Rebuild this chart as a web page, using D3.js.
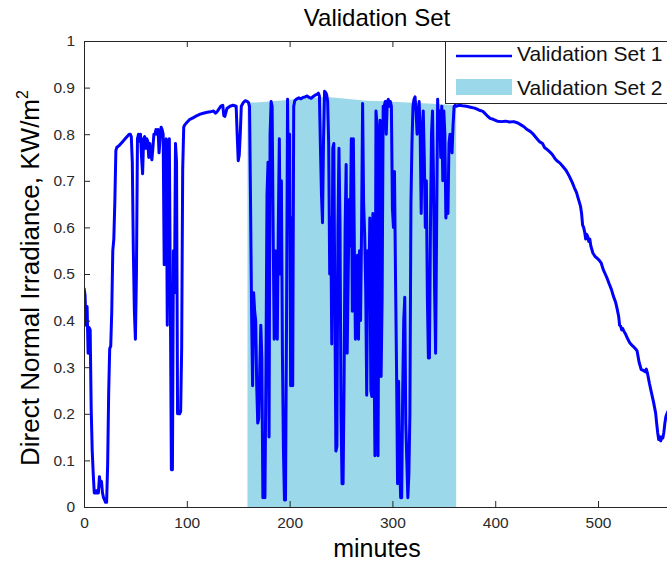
<!DOCTYPE html>
<html>
<head>
<meta charset="utf-8">
<script src="https://cdn.jsdelivr.net/npm/d3@7"></script>
<style>
  body { margin: 0; background: #fff; }
  svg { display: block; font-family: "Liberation Sans", Arial, sans-serif; }
</style>
</head>
<body>
<div id="chart-area"></div>
<script>
// chart texts
var chartTitle = "Validation Set"
var xLabel = "minutes"
var seriesNames = ["Validation Set 1", "Validation Set 2"]

// ticks
var xTicks = [0, 100, 200, 300, 400, 500]
var yTicks = [0, 0.1, 0.2, 0.3, 0.4, 0.5, 0.6, 0.7, 0.8, 0.9, 1]
var yTickLabels = ["0", "0.1", "0.2", "0.3", "0.4", "0.5", "0.6", "0.7", "0.8", "0.9", "1"]
var xMax = 570

// Validation Set 1 : [minute, KW/m2]
var set1 = [
  [0,0.47],[1,0.455],[2,0.39],[3,0.43],[4,0.33],[5,0.385],[6,0.38],[7,0.21],[8,0.12],[9,0.07],
  [10,0.03],[11,0.03],[12,0.035],[13,0.03],[14,0.03],[15,0.065],[16,0.045],[17,0.055],[18,0.03],[19,0.02],
  [20,0.015],[21,0.01],[22,0.01],[23,0.09],[24,0.245],[25,0.34],[26,0.345],[27,0.42],[28,0.55],[29,0.575],
  [30,0.655],[31,0.765],[32,0.772],[34,0.775],[36,0.78],[38,0.785],[40,0.79],[42,0.795],[44,0.80],[45,0.80],
  [46,0.795],[47,0.74],[48,0.55],[49,0.42],[50,0.36],[51,0.50],[52,0.79],[53,0.80],[54,0.785],[55,0.80],
  [56,0.75],[57,0.715],[58,0.79],[59,0.795],[60,0.77],[61,0.79],[62,0.785],[63,0.75],[64,0.78],[65,0.76],
  [66,0.745],[67,0.77],[68,0.80],[69,0.80],[70,0.81],[71,0.80],[72,0.81],[73,0.76],[74,0.79],[75,0.815],
  [76,0.81],[77,0.80],[78,0.52],[79,0.78],[80,0.79],[81,0.39],[82,0.76],[83,0.79],[84,0.45],[85,0.08],
  [86,0.08],[87,0.55],[88,0.46],[89,0.78],[90,0.74],[91,0.20],[92,0.205],[93,0.20],[94,0.205],[95,0.34],
  [95.5,0.54],[96,0.725],[97,0.815],[98,0.82],[100,0.825],[103,0.832],[106,0.835],[110,0.84],[113,0.843],[116,0.845],
  [120,0.847],[123,0.848],[126,0.85],[128,0.845],[130,0.85],[133,0.86],[135,0.862],[136,0.84],[137,0.838],[139,0.855],
  [142,0.86],[145,0.862],[148,0.86],[149,0.80],[150,0.743],[151,0.755],[152,0.80],[153,0.86],[155,0.868],[157,0.872],
  [159,0.87],[160,0.868],[161,0.86],[162,0.65],[163,0.42],[164,0.26],[165,0.46],[166,0.42],[167,0.40],[168,0.26],
  [169,0.18],[170,0.19],[171,0.30],[172,0.39],[173,0.32],[174,0.02],[175,0.05],[176,0.02],[177,0.30],[178,0.67],
  [179,0.74],[180,0.15],[181,0.80],[182,0.87],[183,0.86],[184,0.59],[185,0.36],[186,0.55],[187,0.42],[188,0.36],
  [189,0.60],[190,0.79],[191,0.50],[192,0.70],[193,0.33],[194,0.12],[195,0.015],[196,0.015],[197,0.40],[198,0.875],
  [199,0.62],[200,0.80],[201,0.26],[202,0.62],[203,0.26],[204,0.86],[205,0.872],[207,0.876],[209,0.878],[211,0.876],
  [213,0.879],[215,0.88],[217,0.882],[219,0.879],[221,0.877],[223,0.881],[225,0.884],[227,0.886],[228,0.888],[229,0.882],
  [230,0.77],[231,0.67],[232,0.61],[233,0.79],[234,0.892],[235,0.89],[236,0.885],[237,0.87],[238,0.78],[239,0.50],
  [240,0.62],[241,0.35],[242,0.77],[243,0.78],[244,0.44],[245,0.12],[246,0.13],[247,0.60],[248,0.77],[249,0.61],
  [250,0.20],[251,0.05],[252,0.05],[253,0.27],[254,0.60],[255,0.735],[256,0.33],[257,0.50],[258,0.66],[259,0.56],
  [260,0.79],[261,0.42],[262,0.79],[263,0.55],[264,0.36],[265,0.42],[266,0.54],[267,0.36],[268,0.55],[269,0.40],
  [270,0.60],[271,0.866],[272,0.65],[273,0.585],[274,0.47],[275,0.24],[276,0.55],[277,0.45],[278,0.62],[279,0.25],
  [280,0.237],[281,0.63],[282,0.37],[283,0.11],[284,0.85],[285,0.82],[286,0.11],[287,0.60],[288,0.83],[289,0.28],
  [290,0.45],[291,0.86],[292,0.86],[293,0.87],[294,0.80],[295,0.87],[296,0.875],[297,0.86],[298,0.87],[299,0.86],
  [300,0.64],[301,0.60],[302,0.72],[303,0.495],[304,0.30],[305,0.05],[306,0.27],[307,0.10],[308,0.02],[309,0.02],
  [310,0.25],[311,0.40],[312,0.45],[313,0.18],[314,0.10],[315,0.02],[316,0.07],[317,0.20],[318,0.65],[319,0.78],
  [320,0.86],[321,0.875],[322,0.88],[323,0.85],[324,0.80],[325,0.84],[326,0.87],[327,0.80],[328,0.63],[329,0.80],
  [330,0.85],[331,0.75],[332,0.60],[333,0.70],[334,0.45],[335,0.32],[336,0.32],[337,0.60],[338,0.80],[339,0.85],
  [340,0.70],[341,0.47],[342,0.33],[343,0.60],[344,0.875],[345,0.80],[346,0.85],[347,0.75],[348,0.86],[349,0.70],
  [350,0.85],[351,0.80],[352,0.62],[353,0.66],[354,0.63],[355,0.78],[356,0.80],[357,0.775],[358,0.76],[359,0.82],
  [360,0.86],[361,0.862],[362,0.86],[365,0.862],[368,0.861],[372,0.86],[376,0.858],[380,0.856],[384,0.852],[388,0.849],
  [392,0.84],[395,0.834],[398,0.832],[402,0.828],[406,0.827],[410,0.828],[414,0.826],[418,0.827],[422,0.824],[425,0.82],
  [428,0.816],[431,0.81],[434,0.806],[437,0.80],[440,0.792],[443,0.784],[446,0.78],[448,0.771],[450,0.768],[452,0.764],
  [455,0.758],[458,0.748],[460,0.743],[463,0.738],[466,0.73],[469,0.722],[472,0.71],[475,0.696],[477,0.685],[479,0.675],
  [481,0.66],[483,0.645],[484,0.63],[485,0.605],[486,0.60],[487,0.59],[488,0.575],[489,0.585],[490,0.58],[491,0.57],
  [492,0.575],[493,0.56],[495,0.545],[497,0.538],[499,0.534],[501,0.53],[503,0.524],[505,0.51],[507,0.50],[509,0.49],
  [511,0.478],[513,0.467],[515,0.452],[517,0.44],[518,0.431],[520,0.41],[521,0.39],[522,0.388],[523,0.38],[524,0.383],
  [525,0.378],[527,0.37],[529,0.36],[531,0.352],[533,0.347],[535,0.343],[537,0.338],[538,0.335],[540,0.31],[542,0.295],
  [544,0.293],[546,0.29],[547,0.296],[548,0.288],[550,0.265],[552,0.245],[554,0.225],[556,0.202],[557,0.18],[558,0.16],
  [559,0.145],[560,0.151],[561,0.142],[562,0.15],[563,0.148],[564,0.16],[565,0.18],[566,0.194],[567,0.20],[568,0.205],
  [570,0.21]
]

// Validation Set 2 (shaded)
var set2Minutes = [159, 165, 175, 185, 195, 205, 215, 225, 235, 245, 255, 265, 275, 285, 295, 305, 315, 325, 335, 345, 355, 362]
var set2Values = [0.868, 0.868, 0.869, 0.871, 0.873, 0.875, 0.877, 0.879, 0.88, 0.878, 0.876, 0.874, 0.872, 0.871, 0.87, 0.869, 0.868, 0.867, 0.866, 0.865, 0.863, 0.861]

var margin = { top: 41, left: 84 }
var width = 586
var height = 466
var axisColor = "#262626"

var svg = d3.select("#chart-area")
  .append("svg")
  .attr("width", 667)
  .attr("height", 564)

svg.append("defs").append("clipPath")
  .attr("id", "plot-clip")
  .append("rect")
  .attr("x", 0)
  .attr("y", -10)
  .attr("width", width)
  .attr("height", height + 20)

var g = svg.append("g")
  .attr("transform", "translate(" + margin.left + "," + margin.top + ")")

var x = d3.scaleLinear().domain([0, xMax]).range([0, width])
var y = d3.scaleLinear().domain([0, 1]).range([height, 0])

// shaded set 2
var set2 = set2Minutes.map(function(m, i) { return [m, set2Values[i]] })
g.append("path")
  .datum(set2)
  .attr("fill", "#9bd9ea")
  .attr("d", d3.area()
    .x(d => x(d[0]))
    .y0(y(0))
    .y1(d => y(d[1])))

// set 1 line
g.append("path")
  .datum(set1)
  .attr("clip-path", "url(#plot-clip)")
  .attr("fill", "none")
  .attr("stroke", "#0000ff")
  .attr("stroke-width", 3)
  .attr("stroke-linejoin", "round")
  .attr("d", d3.line()
    .x(d => x(d[0]))
    .y(d => y(d[1])))

// axes (ticks inside, MATLAB style)
var xAxisCall = d3.axisBottom(x)
  .tickValues(xTicks)
  .tickSize(-6)
  .tickPadding(10)
  .tickFormat(d3.format("d"))

var xAxis = g.append("g")
  .attr("class", "x axis")
  .attr("transform", "translate(0," + height + ")")
  .call(xAxisCall)

var topAxis = g.append("g")
  .attr("class", "x axis top")
  .call(d3.axisTop(x).tickValues(xTicks).tickSize(-6).tickFormat(""))

var yAxisCall = d3.axisLeft(y)
  .tickValues(yTicks)
  .tickSize(-6)
  .tickPadding(9)
  .tickFormat((d, i) => yTickLabels[i])

var yAxis = g.append("g")
  .attr("class", "y axis")
  .call(yAxisCall)

g.selectAll(".axis .domain").remove()
g.selectAll(".axis line").attr("stroke", axisColor)
g.selectAll(".axis text")
  .attr("fill", "#2a2a2a")
  .attr("font-size", "15.5px")
  .attr("font-family", "Liberation Sans, Arial, sans-serif")

// box
g.append("path")
  .attr("fill", "none")
  .attr("stroke", axisColor)
  .attr("stroke-width", 1)
  .attr("d", "M" + (width + 5) + ",0.5H0.5V" + (height + 0.5) + "H" + (width + 5))

// title and labels
svg.append("text")
  .text(chartTitle)
  .attr("x", margin.left + width / 2)
  .attr("y", 26)
  .attr("text-anchor", "middle")
  .attr("font-size", "24px")

svg.append("text")
  .text(xLabel)
  .attr("x", margin.left + width / 2)
  .attr("y", 557)
  .attr("text-anchor", "middle")
  .attr("font-size", "25px")

var yLab = svg.append("text")
  .attr("transform", "translate(39," + 278 + ") rotate(-90)")
  .attr("text-anchor", "middle")
  .attr("font-size", "26px")
yLab.append("tspan").text("Direct Normal Irradiance, KW/m")
yLab.append("tspan")
  .text("2")
  .attr("font-size", "16px")
  .attr("dy", "-11")

// legend
var legend = svg.append("g")

legend.append("rect")
  .attr("x", 445.5)
  .attr("y", 41.5)
  .attr("width", 240)
  .attr("height", 62)
  .attr("fill", "#fff")
  .attr("stroke", axisColor)

legend.append("line")
  .attr("x1", 456)
  .attr("x2", 512)
  .attr("y1", 56)
  .attr("y2", 56)
  .attr("stroke", "#0000ff")
  .attr("stroke-width", 2.6)

legend.append("rect")
  .attr("x", 456)
  .attr("y", 79)
  .attr("width", 56)
  .attr("height", 16)
  .attr("fill", "#9bd9ea")

legend.selectAll("text.legend-label")
  .data(seriesNames)
  .enter()
  .append("text")
  .attr("class", "legend-label")
  .text(d => d)
  .attr("x", 517)
  .attr("y", (d, i) => 61 + i * 34)
  .attr("font-size", "21px")
  .attr("fill", "#111")
</script>
</body>
</html>
